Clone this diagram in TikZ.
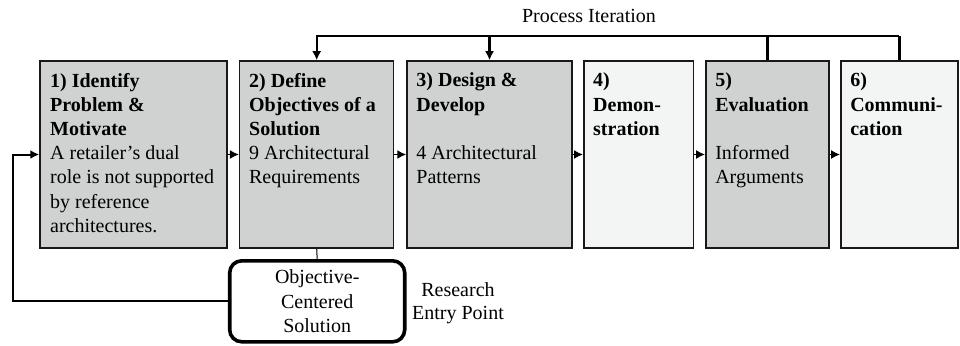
\documentclass[tikz,border=0pt]{standalone}
\usepackage{fontspec}
\setmainfont{Liberation Serif}
\usetikzlibrary{arrows.meta}
\definecolor{boxdark}{RGB}{208,210,209}
\definecolor{boxlight}{RGB}{243,245,244}
\tikzset{
  stepbox/.style={draw=black!90, line width=1.5pt, rectangle, inner sep=0pt, minimum height=187pt},
  boxtxt/.style={anchor=north west, inner sep=0pt, align=left, font=\fontsize{20}{24.2}\selectfont},
  flow/.style={line width=1.5pt, -{Latex[length=9pt,width=9pt]}},
  fb/.style={line width=2.4pt},
  fbarrow/.style={line width=2.4pt, -{Latex[length=9pt,width=9pt]}},
  plain/.style={font=\fontsize{20}{24}\selectfont, inner sep=0pt, align=center}
}
\begin{document}
\begin{tikzpicture}[x=1pt,y=-1pt]
\useasboundingbox (0,0) rectangle (960,345);
% boxes
\node[stepbox, fill=boxdark, minimum width=187pt] (b1) at (133.5,154.5) {};
\node[stepbox, fill=boxdark, minimum width=154pt] (b2) at (316.7,154.5) {};
\node[stepbox, fill=boxdark, minimum width=165pt] (b3) at (489.5,154.5) {};
\node[stepbox, fill=boxlight, minimum width=109.5pt] (b4) at (638.5,154.5) {};
\node[stepbox, fill=boxdark, minimum width=123pt] (b5) at (767.3,154.5) {};
\node[stepbox, fill=boxlight, minimum width=117pt] (b6) at (899.3,154.5) {};
% texts
\node[boxtxt] (t1) at ([xshift=10.7pt,yshift=-12.5pt]b1.north west) {\textbf{1) Identify}\\\textbf{Problem \&}\\\textbf{Motivate}\\A retailer’s dual\\role is not supported\\by reference\\architectures.};
\node[boxtxt] (t2) at ([xshift=10pt,yshift=-12.5pt]b2.north west) {\textbf{2) Define}\\\textbf{Objectives of a}\\\textbf{Solution}\\9 Architectural\\Requirements};
\node[boxtxt] (t3) at ([xshift=10pt,yshift=-12.5pt]b3.north west) {\textbf{3) Design \&}\\\textbf{Develop}\\\mbox{}\\4 Architectural\\Patterns};
\node[boxtxt] (t4) at ([xshift=10pt,yshift=-12.5pt]b4.north west) {\textbf{4)}\\\textbf{Demon-}\\\textbf{stration}};
\node[boxtxt] (t5) at ([xshift=10pt,yshift=-12.5pt]b5.north west) {\textbf{5)}\\\textbf{Evaluation}\\\mbox{}\\Informed\\Arguments};
\node[boxtxt] (t6) at ([xshift=10pt,yshift=-12.5pt]b6.north west) {\textbf{6)}\\\textbf{Communi-}\\\textbf{cation}};
% objective-centered solution
\node[draw, line width=3.6pt, rounded corners=12pt, minimum width=175pt, minimum height=81pt, inner sep=0pt, align=center, font=\fontsize{20}{24.4}\selectfont] (ocs) at (317.2,301.3) {Objective-\\Centered\\Solution};
\node[plain, font=\fontsize{20}{23.5}\selectfont] (rep) at (458,303) {Research\\Entry Point};
\node[plain] (pi) at (589,16) {Process Iteration};
% flow arrows
\draw[flow] (b1.east) -- (b2.west);
\draw[flow] (b2.east) -- (b3.west);
\draw[flow] (b3.east) -- (b4.west);
\draw[flow] (b4.east) -- (b5.west);
\draw[flow] (b5.east) -- (b6.west);
% iteration
\coordinate (itop) at (0,36);
\draw[fb] (b6.north) -- (b6.north |- itop);
\draw[fb] (b5.north) -- (b5.north |- itop);
\draw[fbarrow] (b6.north |- itop) -- (b2.north |- itop) -- (b2.north);
\draw[fbarrow] (b3.north |- itop) -- (b3.north);
% entry point
\draw[line width=1pt] (b2.south) -- (ocs.north);
\coordinate (lf) at (13,154.5);
\draw[line width=2pt, -{Latex[length=9pt,width=9pt]}] (ocs.west) -| (lf) -- (b1.west);
\end{tikzpicture}
\end{document}
